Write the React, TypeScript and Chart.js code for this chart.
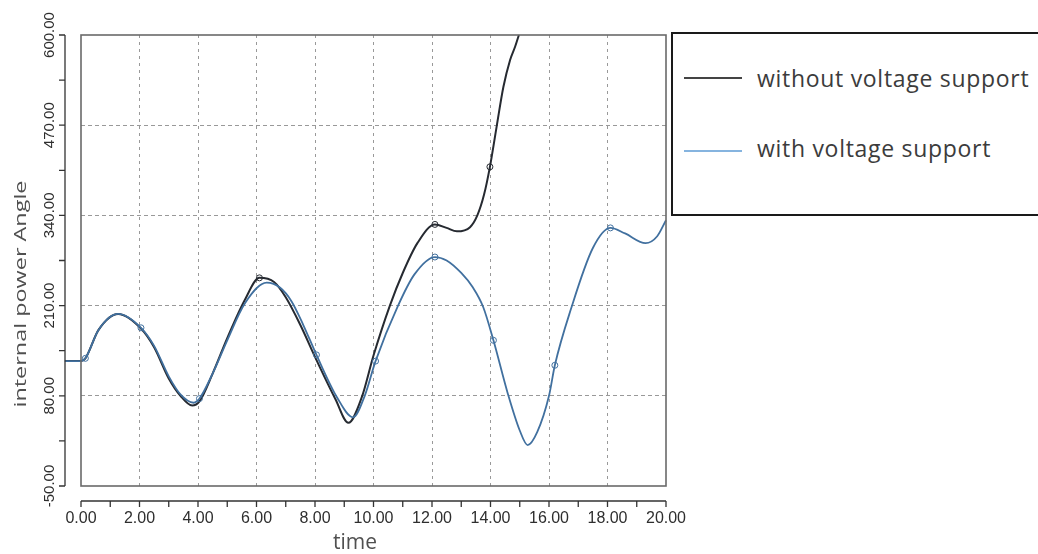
import React, { useEffect, useRef } from "react";
import { Chart, registerables } from "chart.js";

Chart.register(...registerables);

// ---- data ----
const seriesLabels = ["without voltage support", "with voltage support"];
const xTitle = "time";
const yTitle = "internal power Angle";

const xTickValues = [0, 2, 4, 6, 8, 10, 12, 14, 16, 18, 20];
const yTickValues = [-50, 80, 210, 340, 470, 600];

const timeWithout = [-0.55, 0, 0.15, 0.6, 1.27, 2.05, 2.5, 3.0, 3.4, 3.8, 4.05, 4.5, 5.0, 5.6, 6.1, 6.6, 7.0, 7.5, 8.0, 8.7, 9.14, 9.6, 10.0, 10.56, 11.0, 11.5, 12.1, 12.5, 12.85, 13.3, 13.55, 13.78, 13.98, 14.21, 14.44, 14.67, 14.84, 14.97];
const valuesWithout = [130, 130, 134, 175, 198, 177, 150, 105, 80, 66, 72, 112, 163, 218, 250, 244, 222, 182, 136, 75, 41, 78, 138, 210, 257, 300, 327, 322, 317, 323, 340, 370, 410, 468, 525, 564, 583, 600];

const timeWith = [-0.55, 0, 0.15, 0.6, 1.27, 2.05, 2.5, 3.0, 3.4, 3.85, 4.05, 4.5, 5.0, 5.6, 6.35, 6.8, 7.2, 7.6, 8.05, 8.75, 9.3, 9.7, 10.07, 10.84, 11.4, 12.1, 12.5, 13.0, 13.4, 13.75, 14.1, 14.6, 15.0, 15.27, 15.6, 16.0, 16.2, 16.75, 17.5, 18.1, 18.6, 19.3, 19.7, 20];
const valuesWith = [130, 130, 134, 175, 198, 178, 152, 108, 82, 70, 76, 112, 160, 213, 243, 236, 216, 182, 139, 78, 49, 80, 130, 210, 255, 280, 275, 257, 236, 208, 160, 82, 30, 9, 28, 80, 124, 205, 293, 322, 314, 300, 310, 333];

const markersWithout = [6.1, 12.1, 13.98];
const markersWith = [-0.55, 0.15, 2.05, 4.05, 8.05, 10.07, 12.1, 14.1, 16.2, 18.1];

const BLACK = "#262a31";
const BLUE = "#41709f";

const framePlugin = {
  id: "frame",
  afterDraw(chart: any) {
    const { ctx, chartArea: a, scales } = chart;
    const xs = scales.x;
    const ys = scales.y;
    ctx.save();
    // plot box
    ctx.strokeStyle = "#6a6a6a";
    ctx.lineWidth = 1.6;
    ctx.strokeRect(a.left, a.top, a.right - a.left, a.bottom - a.top);

    // detached y axis
    const axX = a.left - 16;
    ctx.strokeStyle = "#333";
    ctx.lineWidth = 1.3;
    ctx.beginPath();
    ctx.moveTo(axX, ys.getPixelForValue(yTickValues[yTickValues.length - 1]));
    ctx.lineTo(axX, ys.getPixelForValue(yTickValues[0]));
    const yMarks: number[] = [];
    yTickValues.forEach((v, i) => {
      yMarks.push(v);
      if (i < yTickValues.length - 1) yMarks.push((v + yTickValues[i + 1]) / 2);
    });
    yMarks.forEach((v) => {
      const p = ys.getPixelForValue(v);
      ctx.moveTo(axX - 6, p);
      ctx.lineTo(axX, p);
    });
    ctx.stroke();

    // detached x axis
    const axY = a.bottom + 15;
    ctx.beginPath();
    ctx.moveTo(xs.getPixelForValue(xTickValues[0]), axY);
    ctx.lineTo(xs.getPixelForValue(xTickValues[xTickValues.length - 1]), axY);
    const xMarks: number[] = [];
    xTickValues.forEach((v, i) => {
      xMarks.push(v);
      if (i < xTickValues.length - 1) xMarks.push((v + xTickValues[i + 1]) / 2);
    });
    xMarks.forEach((v) => {
      const p = xs.getPixelForValue(v);
      ctx.moveTo(p, axY);
      ctx.lineTo(p, axY + 6);
    });
    ctx.stroke();

    // y title (rotated)
    ctx.save();
    ctx.translate(21, 294);
    ctx.rotate(-Math.PI / 2);
    ctx.font = '17px "Open Sans"';
    const w = ctx.measureText(yTitle).width;
    ctx.scale(227 / w, 1);
    ctx.textAlign = "center";
    ctx.textBaseline = "middle";
    ctx.fillStyle = "#505050";
    ctx.fillText(yTitle, 0, 0);
    ctx.restore();

    // x title
    ctx.font = '21px "Open Sans"';
    ctx.textAlign = "center";
    ctx.textBaseline = "middle";
    ctx.fillStyle = "#505050";
    ctx.fillText(xTitle, 355, 543);
    ctx.restore();
  },
};

export default function App() {
  const ref = useRef<HTMLCanvasElement | null>(null);

  useEffect(() => {
    if (!ref.current) return;
    const chart = new Chart(ref.current, {
      type: "line",
      data: {
        datasets: [
          {
            label: seriesLabels[0],
            data: timeWithout.map((t, i) => ({ x: t, y: valuesWithout[i] })),
            borderColor: BLACK,
            borderWidth: 2,
            cubicInterpolationMode: "monotone",
            clip: false,
            order: 1,
            pointRadius: (c: any) => (markersWithout.includes(timeWithout[c.dataIndex]) ? 3 : 0),
            pointBorderColor: BLACK,
            pointBackgroundColor: "rgba(0,0,0,0)",
            pointBorderWidth: 1,
          } as any,
          {
            label: seriesLabels[1],
            data: timeWith.map((t, i) => ({ x: t, y: valuesWith[i] })),
            borderColor: BLUE,
            borderWidth: 1.8,
            cubicInterpolationMode: "monotone",
            clip: false,
            order: 0,
            pointRadius: (c: any) => (markersWith.includes(timeWith[c.dataIndex]) ? 3 : 0),
            pointBorderColor: BLUE,
            pointBackgroundColor: "rgba(0,0,0,0)",
            pointBorderWidth: 1,
          } as any,
        ],
      },
      options: {
        responsive: false,
        animation: false,
        events: [],
        layout: { padding: { top: 35, right: 372, left: 0, bottom: 0 } },
        plugins: { legend: { display: false }, tooltip: { enabled: false } },
        scales: {
          x: {
            type: "linear",
            min: 0,
            max: 20,
            afterBuildTicks: (s: any) => {
              s.ticks = xTickValues.map((v) => ({ value: v }));
            },
            afterFit: (s: any) => {
              s.height = 68;
            },
            grid: {
              color: (c: any) =>
                c.tick && (c.tick.value === xTickValues[0] || c.tick.value === xTickValues[xTickValues.length - 1])
                  ? "rgba(0,0,0,0)"
                  : "#999",
              lineWidth: 1,
              drawTicks: false,
            },
            border: { display: false, dash: [3, 4] },
            ticks: {
              padding: 23,
              autoSkip: false,
              maxRotation: 0,
              color: "#2e2e2e",
              font: { family: '"Liberation Sans", Arial, sans-serif', size: 16 },
              callback: (v: any) => Number(v).toFixed(2),
            },
          },
          y: {
            type: "linear",
            min: -50,
            max: 600,
            afterBuildTicks: (s: any) => {
              s.ticks = yTickValues.map((v) => ({ value: v }));
            },
            afterFit: (s: any) => {
              s.width = 81;
            },
            grid: {
              color: (c: any) =>
                c.tick && (c.tick.value === yTickValues[0] || c.tick.value === yTickValues[yTickValues.length - 1])
                  ? "rgba(0,0,0,0)"
                  : "#999",
              lineWidth: 1,
              drawTicks: false,
            },
            border: { display: false, dash: [4, 3] },
            ticks: {
              padding: 8,
              autoSkip: false,
              minRotation: 90,
              maxRotation: 90,
              crossAlign: "center",
              color: "#2e2e2e",
              font: { family: '"Liberation Sans", Arial, sans-serif', size: 15 },
              callback: (v: any) => Number(v).toFixed(2),
            },
          },
        },
      } as any,
      plugins: [framePlugin],
    });
    return () => chart.destroy();
  }, []);

  const textStyle: React.CSSProperties = {
    position: "absolute",
    left: 84,
    fontFamily: '"Open Sans", sans-serif',
    fontSize: 23,
    lineHeight: "30px",
    letterSpacing: "0.7px",
    color: "#3c3c3c",
    whiteSpace: "nowrap",
  };

  return (
    <div
      style={{
        position: "absolute",
        left: 0,
        top: 0,
        width: 1038,
        height: 554,
        overflow: "hidden",
        background: "#fff",
      }}
    >
      <canvas ref={ref} width={1038} height={554} style={{ display: "block" }} />
      <div
        style={{
          position: "absolute",
          left: 671,
          top: 32,
          width: 400,
          height: 184,
          boxSizing: "border-box",
          border: "2px solid #1a1a1a",
          background: "#fff",
        }}
      >
        <div style={{ position: "absolute", left: 11, top: 43, width: 58, height: 2, background: "#444" }} />
        <span style={{ ...textStyle, top: 29 }}>{seriesLabels[0]}</span>
        <div style={{ position: "absolute", left: 11, top: 116, width: 58, height: 2, background: "#86b4df" }} />
        <span style={{ ...textStyle, top: 99 }}>{seriesLabels[1]}</span>
      </div>
    </div>
  );
}
